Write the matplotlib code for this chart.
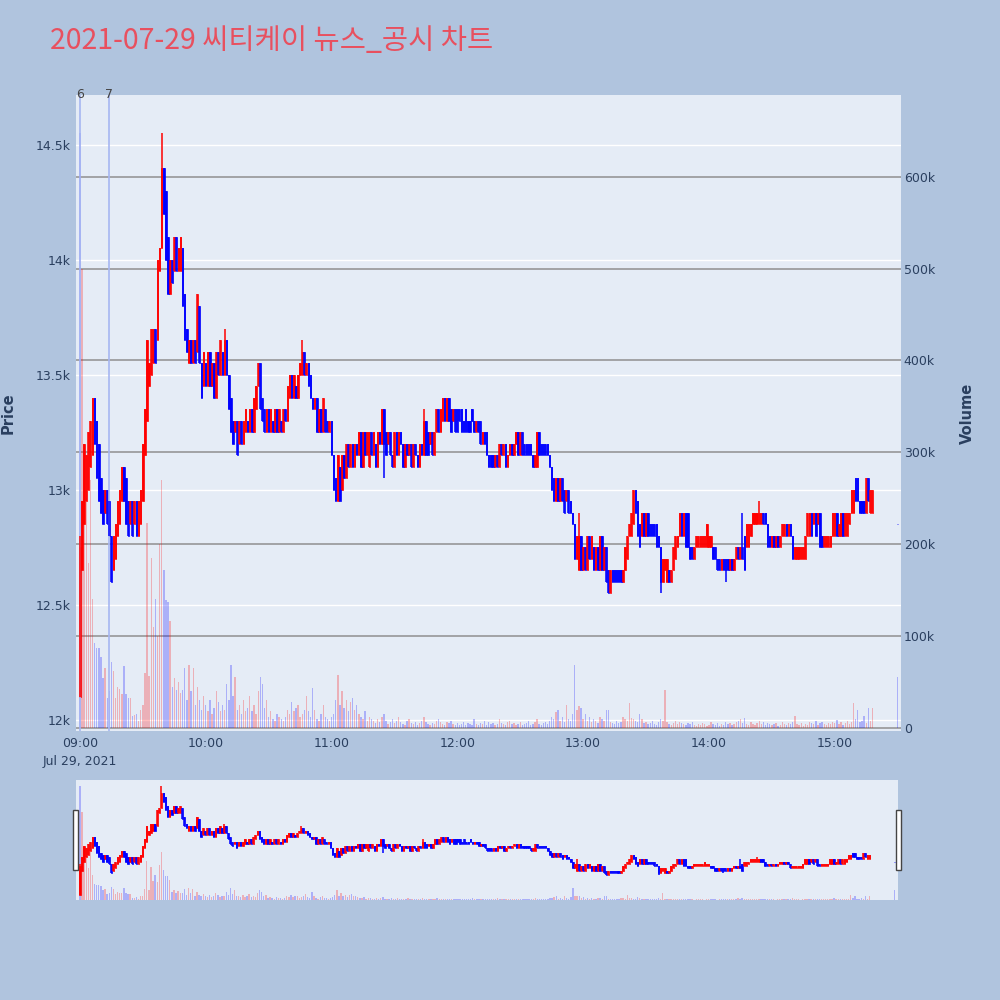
import matplotlib
matplotlib.use("Agg")
import matplotlib.pyplot as plt
import matplotlib.dates as mdates
from matplotlib.patches import Rectangle
from matplotlib.ticker import FuncFormatter, MultipleLocator
from datetime import datetime, timedelta

# -------------------- DATA --------------------

title = "2021-07-29 씨티케이 뉴스_공시 차트"
start = datetime(2021, 7, 29, 9, 0)

# 1-minute bars, 09:00 .. 15:18
opens = [
    12100, 12650, 12850, 12950, 13000, 13100, 13150, 13400, 13300, 13200,
    13050, 13000, 12900, 13000, 12950, 12800, 12650, 12700, 12800, 12850,
    12950, 13100, 13050, 12950, 12850, 12950, 12850, 12950, 12800, 12850,
    12950, 13150, 13300, 13450, 13500, 13550, 13700, 13650, 13950, 14050,
    14400, 14300, 14100, 13850, 14000, 13950, 14100, 13950, 13950, 14050,
    13850, 13700, 13550, 13650, 13550, 13650, 13600, 13800, 13550, 13450,
    13550, 13450, 13600, 13450, 13550, 13400, 13600, 13500, 13600, 13500,
    13650, 13500, 13400, 13300, 13250, 13300, 13200, 13300, 13200, 13250,
    13300, 13250, 13350, 13250, 13350, 13450, 13550, 13400, 13350, 13250,
    13350, 13250, 13300, 13250, 13350, 13250, 13300, 13250, 13350, 13300,
    13400, 13500, 13400, 13450, 13400, 13500, 13500, 13600, 13500, 13550,
    13500, 13400, 13350, 13400, 13250, 13350, 13250, 13350, 13300, 13250,
    13300, 13150, 13050, 12950, 13100, 13000, 13150, 13050, 13200, 13100,
    13200, 13100, 13200, 13150, 13250, 13100, 13250, 13150, 13100, 13250,
    13150, 13200, 13100, 13250, 13200, 13350, 13250, 13200, 13250, 13150,
    13100, 13250, 13150, 13250, 13200, 13100, 13200, 13150, 13200, 13100,
    13200, 13150, 13100, 13200, 13150, 13300, 13250, 13200, 13250, 13150,
    13250, 13350, 13250, 13300, 13400, 13300, 13400, 13350, 13300, 13350,
    13350, 13350, 13350, 13300, 13350, 13300, 13300, 13350, 13300, 13250,
    13300, 13300, 13200, 13250, 13250, 13150, 13150, 13150, 13100, 13150,
    13100, 13200, 13150, 13200, 13100, 13150, 13200, 13150, 13200, 13250,
    13150, 13250, 13200, 13200, 13200, 13200, 13150, 13100, 13100, 13250,
    13200, 13200, 13200, 13200, 13150, 13100, 13050, 12950, 13050, 12950,
    13050, 13000, 12950, 13000, 12950, 12900, 12850, 12700, 12650, 12800,
    12650, 12750, 12650, 12800, 12700, 12750, 12650, 12750, 12650, 12800,
    12650, 12750, 12650, 12550, 12650, 12650, 12650, 12650, 12650, 12600,
    12650, 12700, 12800, 12800, 12850, 13000, 12950, 12850, 12800, 12900,
    12800, 12900, 12850, 12850, 12850, 12850, 12800, 12750, 12600, 12650,
    12600, 12650, 12600, 12650, 12700, 12750, 12800, 12900, 12800, 12900,
    12900, 12750, 12750, 12700, 12750, 12750, 12750, 12750, 12750, 12750,
    12750, 12750, 12750, 12750, 12700, 12700, 12650, 12700, 12700, 12700,
    12650, 12700, 12650, 12700, 12750, 12700, 12750, 12800, 12750, 12750,
    12800, 12850, 12850, 12850, 12850, 12850, 12900, 12900, 12850, 12800,
    12750, 12800, 12750, 12800, 12750, 12800, 12800, 12850, 12800, 12850,
    12800, 12700, 12700, 12700, 12700, 12700, 12700, 12800, 12800, 12900,
    12850, 12900, 12850, 12900, 12800, 12750, 12750, 12750, 12750, 12800,
    12800, 12900, 12800, 12800, 12900, 12800, 12800, 12850, 12900, 12900,
    13050, 13050, 12950, 12950, 12950, 12900, 13050, 12900, 12900,
]
closes = [
    12750, 12950, 13200, 13150, 13250, 13300, 13400, 13200, 13050, 12950,
    12900, 12850, 13000, 12850, 12800, 12600, 12800, 12850, 12950, 13000,
    13100, 12950, 12850, 12800, 12950, 12800, 12950, 12800, 12950, 13000,
    13200, 13350, 13650, 13550, 13700, 13700, 13550, 14000, 14050, 14400,
    14200, 14000, 13850, 14000, 13900, 14100, 13950, 14050, 14100, 13800,
    13650, 13600, 13650, 13550, 13650, 13550, 13850, 13550, 13400, 13600,
    13450, 13600, 13450, 13550, 13400, 13600, 13500, 13650, 13500, 13650,
    13500, 13350, 13250, 13200, 13300, 13150, 13300, 13200, 13300, 13350,
    13250, 13350, 13250, 13400, 13450, 13550, 13350, 13300, 13250, 13350,
    13250, 13350, 13250, 13350, 13250, 13350, 13250, 13350, 13300, 13450,
    13500, 13400, 13500, 13400, 13500, 13550, 13600, 13500, 13550, 13450,
    13400, 13350, 13400, 13250, 13350, 13250, 13400, 13250, 13250, 13300,
    13150, 13000, 12950, 13150, 12950, 13150, 13050, 13200, 13100, 13200,
    13100, 13200, 13150, 13250, 13100, 13250, 13150, 13250, 13250, 13150,
    13250, 13100, 13250, 13200, 13350, 13200, 13150, 13250, 13150, 13100,
    13250, 13150, 13250, 13200, 13100, 13200, 13150, 13200, 13100, 13200,
    13150, 13100, 13200, 13150, 13300, 13150, 13150, 13250, 13150, 13250,
    13350, 13250, 13350, 13400, 13300, 13400, 13300, 13250, 13350, 13250,
    13250, 13300, 13250, 13250, 13250, 13250, 13250, 13300, 13250, 13300,
    13250, 13200, 13250, 13200, 13150, 13100, 13100, 13100, 13150, 13100,
    13200, 13150, 13200, 13100, 13150, 13200, 13150, 13200, 13250, 13150,
    13250, 13150, 13150, 13150, 13150, 13150, 13100, 13150, 13250, 13150,
    13150, 13150, 13150, 13150, 13100, 13000, 12950, 13050, 12950, 13050,
    12950, 12900, 13000, 12900, 12900, 12850, 12700, 12800, 12800, 12650,
    12750, 12650, 12800, 12700, 12800, 12650, 12750, 12650, 12800, 12650,
    12750, 12600, 12550, 12650, 12600, 12600, 12600, 12600, 12600, 12650,
    12750, 12800, 12850, 12900, 13000, 12900, 12800, 12750, 12900, 12800,
    12900, 12800, 12800, 12800, 12800, 12750, 12750, 12600, 12700, 12700,
    12700, 12600, 12650, 12750, 12800, 12800, 12900, 12800, 12900, 12750,
    12750, 12700, 12700, 12750, 12800, 12800, 12800, 12800, 12800, 12850,
    12800, 12800, 12700, 12700, 12650, 12650, 12700, 12650, 12650, 12650,
    12700, 12650, 12700, 12750, 12700, 12750, 12700, 12650, 12850, 12850,
    12850, 12900, 12900, 12900, 12900, 12900, 12850, 12850, 12750, 12750,
    12800, 12750, 12800, 12750, 12800, 12850, 12850, 12800, 12850, 12800,
    12700, 12750, 12750, 12750, 12750, 12750, 12800, 12900, 12900, 12800,
    12900, 12800, 12900, 12750, 12750, 12800, 12800, 12800, 12800, 12900,
    12900, 12800, 12850, 12900, 12800, 12900, 12900, 12900, 13000, 13000,
    12950, 12950, 12900, 12900, 12900, 13050, 12950, 13000, 13000,
]

# minute index -> (high, low) where a wick sticks out of the body
wicks = {0: (12800, 12100), 39: (14550, None), 69: (13700, None),
         106: (13650, None), 145: (None, 13050), 164: (13350, None),
         238: (12900, None), 277: (None, 12550), 308: (None, 12600),
         316: (12900, None), 324: (12950, None)}

# volume in thousands of shares
volumes_k = [
    648, 500, 300, 250, 180, 270, 140, 93, 87, 87,
    77, 54, 65, 33, 40, 72, 62, 33, 45, 42,
    37, 67, 37, 33, 33, 13, 14, 15, 8, 20,
    25, 60, 223, 57, 185, 110, 140, 100, 200, 270,
    172, 139, 137, 116, 45, 54, 41, 50, 38, 41,
    65, 30, 68, 40, 65, 25, 45, 30, 20, 35,
    25, 18, 30, 15, 22, 40, 28, 18, 25, 20,
    48, 30, 68, 35, 55, 20, 25, 15, 30, 18,
    22, 35, 18, 25, 15, 40, 55, 48, 22, 30,
    12, 18, 10, 8, 15, 12, 10, 8, 12, 20,
    15, 28, 18, 22, 25, 12, 15, 20, 35, 18,
    12, 43, 20, 10, 8, 15, 25, 12, 10, 8,
    12, 15, 30, 58, 25, 40, 22, 30, 18, 28,
    33, 20, 25, 15, 12, 10, 18, 8, 12, 10,
    8, 5, 10, 6, 12, 15, 8, 4, 6, 10,
    5, 8, 12, 6, 4, 3, 8, 10, 5, 4,
    6, 3, 5, 8, 12, 6, 4, 3, 5, 4,
    8, 10, 6, 4, 3, 6, 5, 8, 4, 3,
    5, 3, 4, 6, 3, 5, 4, 3, 10, 4,
    3, 5, 4, 8, 3, 6, 4, 5, 3, 4,
    10, 5, 4, 3, 6, 8, 4, 5, 3, 4,
    6, 3, 4, 5, 8, 3, 4, 6, 10, 4,
    3, 5, 6, 4, 8, 12, 10, 17, 20, 8,
    12, 6, 25, 10, 8, 15, 68, 20, 24, 22,
    10, 15, 8, 12, 6, 10, 8, 5, 12, 10,
    8, 20, 20, 6, 5, 4, 8, 5, 6, 12,
    10, 8, 27, 11, 10, 8, 6, 15, 10, 5,
    6, 4, 5, 8, 4, 3, 6, 10, 8, 41,
    6, 4, 3, 5, 8, 4, 6, 5, 4, 3,
    5, 4, 6, 3, 2, 4, 3, 5, 4, 2,
    3, 6, 4, 3, 5, 2, 4, 3, 6, 4,
    5, 3, 4, 6, 8, 10, 5, 11, 4, 3,
    6, 4, 3, 5, 8, 4, 6, 3, 5, 4,
    3, 4, 5, 2, 3, 6, 4, 3, 5, 4,
    6, 13, 4, 3, 5, 2, 4, 3, 6, 5,
    4, 8, 3, 5, 6, 4, 3, 5, 4, 6,
    5, 9, 4, 6, 3, 5, 8, 4, 6, 27,
    10, 20, 6, 8, 13, 5, 22, 8, 22,
]

# closing auction bar
auction_time = datetime(2021, 7, 29, 15, 30)
auction_price = 12850
auction_volume_k = 56

# news / disclosure markers
news_times = [datetime(2021, 7, 29, 9, 0), datetime(2021, 7, 29, 9, 14)]
news_labels = ["6", "7"]

# -------------------- BUILD OHLC --------------------

n = min(len(opens), len(closes), len(volumes_k))
times = [start + timedelta(minutes=i) for i in range(n)]
o_all, c_all = list(opens[:n]), list(closes[:n])
highs, lows = [], []
for i in range(n):
    h, l = max(o_all[i], c_all[i]), min(o_all[i], c_all[i])
    if i in wicks:
        wh, wl = wicks[i]
        h = wh if wh is not None else h
        l = wl if wl is not None else l
    highs.append(h)
    lows.append(l)

times.append(auction_time)
o_all.append(auction_price)
c_all.append(auction_price)
highs.append(auction_price)
lows.append(auction_price)
vols = [v * 1000 for v in volumes_k[:n]] + [auction_volume_k * 1000]

tnum = mdates.date2num(times)
up = [c > o for o, c in zip(o_all, c_all)]
# the opening bar's volume is shown in the falling colour on the reference
vol_up = [False] + up[1:]

RED, BLUE = "#FF0000", "#0000FF"
BG, PLOT_BG = "#B0C4DE", "#E5ECF6"
TXT = "#2a3f5f"
MIN = 1 / 1440


def draw_volume(ax):
    cols = [RED if u else BLUE for u in vol_up]
    ax.bar(tnum, vols, width=0.65 * MIN, color=cols, alpha=0.25, linewidth=0)


def draw_candles(ax):
    for flag, col in ((True, RED), (False, BLUE)):
        idx = [i for i, u in enumerate(up) if u == flag]
        x = [tnum[i] for i in idx]
        ax.vlines(x, [lows[i] for i in idx], [highs[i] for i in idx],
                  color=col, lw=1.1)
        ax.bar(x, [abs(c_all[i] - o_all[i]) for i in idx],
               bottom=[min(o_all[i], c_all[i]) for i in idx],
               width=0.65 * MIN, color=col, edgecolor=col, linewidth=0.5)


# -------------------- FIGURE --------------------

fig = plt.figure(figsize=(10, 10), dpi=100, facecolor=BG)

x_left = mdates.date2num(start - timedelta(minutes=1.9))
x_right = mdates.date2num(start + timedelta(minutes=391.6))
price_lim = (11952, 14717)
vol_lim = (-3300, 689000)

rect = [0.076, 0.269, 0.825, 0.636]
ax = fig.add_axes(rect)
ax.set_facecolor(PLOT_BG)
axv = fig.add_axes(rect, sharex=ax)
axv.set_facecolor("none")
axc = fig.add_axes(rect, sharex=ax, sharey=ax)
axc.set_facecolor("none")

for a in (ax, axv, axc):
    for s in a.spines.values():
        s.set_visible(False)

ax.set_xlim(x_left, x_right)
ax.set_ylim(*price_lim)
axv.set_ylim(*vol_lim)

# price axis (left) with white grid
ax.yaxis.set_major_locator(MultipleLocator(500))
ax.yaxis.set_major_formatter(FuncFormatter(lambda v, p: f"{v / 1000:g}k"))
ax.grid(axis="y", color="white", lw=1.0)
ax.grid(axis="x", visible=False)
ax.set_axisbelow(True)
ax.tick_params(axis="y", length=0, pad=4, labelsize=9, labelcolor=TXT)
ax.set_ylabel("Price", fontsize=10.5, fontweight="bold", color=TXT, labelpad=14)

# volume axis (right) with grey grid
axv.yaxis.tick_right()
axv.yaxis.set_label_position("right")
axv.yaxis.set_major_locator(MultipleLocator(100000))
axv.yaxis.set_major_formatter(
    FuncFormatter(lambda v, p: "0" if v == 0 else f"{v / 1000:g}k"))
axv.grid(axis="y", color="#8f8f8f", lw=1.1)
axv.set_axisbelow(True)
axv.tick_params(axis="y", length=0, pad=2, labelsize=9, labelcolor=TXT)
axv.tick_params(axis="x", bottom=False, labelbottom=False)
axv.set_ylabel("Volume", fontsize=10.5, fontweight="bold", color=TXT, labelpad=18)
draw_volume(axv)

# x ticks
hours = [start + timedelta(hours=h) for h in range(7)]
ax.set_xticks(mdates.date2num(hours))
ax.set_xticklabels([t.strftime("%H:%M") + ("\nJul 29, 2021" if i == 0 else "")
                    for i, t in enumerate(hours)])
ax.tick_params(axis="x", length=0, pad=4, labelsize=9, labelcolor=TXT)
for lbl in ax.get_xticklabels():
    lbl.set_linespacing(1.5)

# candles on top
axc.set_axis_off()
draw_candles(axc)

# news markers
for t, lab in zip(news_times, news_labels):
    xn = mdates.date2num(t)
    axc.axvline(xn, color="#a6b6f2", lw=1.2, zorder=1)
    axc.text(xn, 1.0, lab, transform=axc.get_xaxis_transform(),
             ha="center", va="center", fontsize=9, color="#444444")

# -------------------- RANGE SLIDER --------------------

srect = [0.076, 0.10, 0.822, 0.12]
sax = fig.add_axes(srect)
sax.set_facecolor(PLOT_BG)
saxv = fig.add_axes(srect, sharex=sax)
saxc = fig.add_axes(srect, sharex=sax)
for a in (saxv, saxc):
    a.set_facecolor("none")
    a.set_axis_off()
for s in sax.spines.values():
    s.set_visible(False)
sax.set_xticks([])
sax.set_yticks([])
sax.set_xlim(x_left, x_right)
saxv.set_ylim(0, 682000)
saxc.set_ylim(11988, 14685)
draw_volume(saxv)
draw_candles(saxc)

for xh in (0.073, 0.896):
    fig.patches.append(Rectangle((xh, 0.13), 0.0045, 0.06, transform=fig.transFigure,
                                 facecolor="white", edgecolor="#444444", lw=1.0))

# -------------------- TITLE --------------------

fig.text(0.05, 0.959, title, fontsize=20.5, color="#E8505F", ha="left", va="center",
         family=["Noto Sans CJK KR", "DejaVu Sans"])

fig.savefig("out.png", dpi=100, facecolor=BG)
